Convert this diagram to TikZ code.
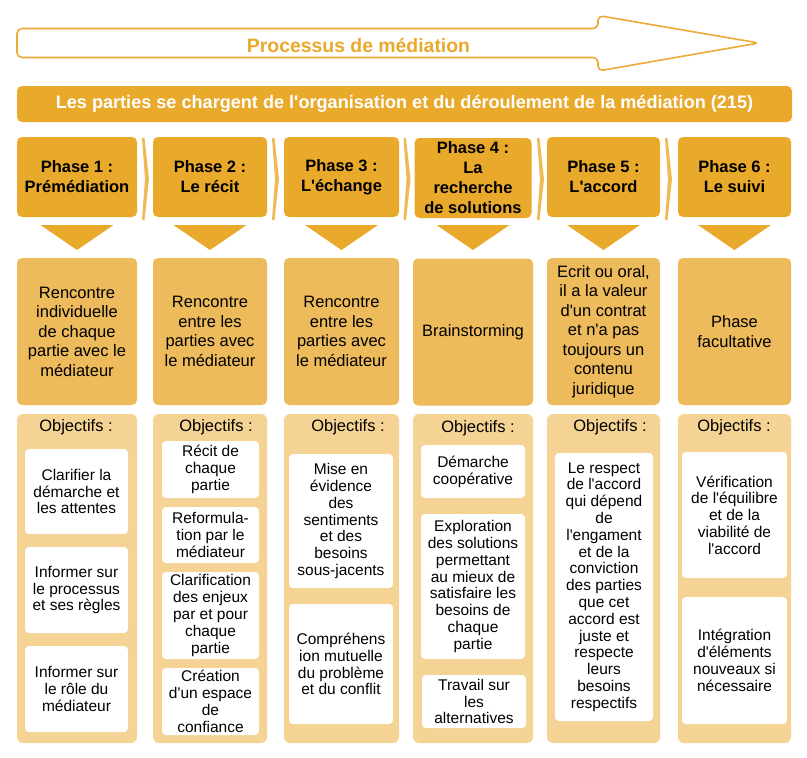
\documentclass[tikz,border=0pt]{standalone}
\usepackage{fontspec}
\newfontfamily\lib{Liberation Sans}
\definecolor{gold}{HTML}{E9A92B}
\definecolor{goldline}{HTML}{EDAA38}
\definecolor{descc}{HTML}{EDBA5C}
\definecolor{contc}{HTML}{F4D394}
\definecolor{chevc}{HTML}{EFBA55}
\begin{document}
\lib
\begin{tikzpicture}[x=1pt,y=-1pt,
  phasebox/.style={fill=gold, rounded corners=5pt, minimum height=80pt, inner sep=0pt,
    font=\lib\fontsize{16.5}{20}\selectfont\bfseries, align=center},
  descbox/.style={fill=descc, rounded corners=5pt, minimum height=147pt, inner sep=0pt,
    font=\lib\fontsize{16.5}{19.5}\selectfont, align=center},
  contbox/.style={fill=contc, rounded corners=6pt, minimum height=329pt, inner sep=0pt},
  objtitle/.style={font=\lib\fontsize{16.5}{19}\selectfont, inner sep=0pt},
  objbox/.style={fill=white, rounded corners=4pt, inner sep=0pt,
    font=\lib\fontsize{15.5}{16.8}\selectfont, align=center},
  tri/.style={fill=gold},
  chev/.style={fill=chevc}]
\useasboundingbox (0,0) rectangle (807,758);

% top arrow
\draw[goldline, line width=1.6pt, rounded corners=5pt, fill=white]
  (17,28.5) -- (598,28.5) -- (598,15.5) -- (759,43) -- (598,71) -- (598,57.5) -- (17,57.5) -- cycle;
\node[text=gold, font=\lib\fontsize{19.4}{21}\selectfont\bfseries, inner sep=0pt] (title) at (358.5,45) {Processus de médiation};

% banner
\node[fill=gold, rounded corners=5pt, minimum width=775pt, minimum height=36pt, inner sep=0pt,
  text=white, font=\lib\fontsize{18.1}{20}\selectfont\bfseries] (banner) at (404.5,104)
  {Les parties se chargent de l'organisation et du déroulement de la médiation (215)};

% phase boxes
\node[phasebox, minimum width=120pt] (p1) at (77,177) {Phase 1 :\\Prémédiation};
\node[phasebox, minimum width=114pt] (p2) at (210,177) {Phase 2 :\\Le récit};
\node[phasebox, minimum width=115pt] (p3) at (341.5,177) {Phase 3 :\\L'échange};
\node[phasebox, minimum width=117pt] (p4) at (473,178) {Phase 4 :\\La\\recherche\\de solutions};
\node[phasebox, minimum width=113pt] (p5) at (603.5,177) {Phase 5 :\\L'accord};
\node[phasebox, minimum width=113pt] (p6) at (734.5,177) {Phase 6 :\\Le suivi};

% chevrons between phases
\foreach \x in {142,272,403.5,537,665}{
  \fill[chev] (\x,138) -- (\x+2.5,138) -- (\x+7,179) -- (\x+2.5,220) -- (\x,220) -- (\x+3,179) -- cycle;
}

% triangles
\foreach \c in {77,210,341.5,473,603.5,734.5}{
  \fill[tri] (\c-36.5,225) -- (\c+36.5,225) -- (\c,250) -- cycle;
}

% description boxes
\node[descbox, minimum width=120pt] (d1) at (77,331.5) {Rencontre\\individuelle\\de chaque\\partie avec le\\médiateur};
\node[descbox, minimum width=114pt] (d2) at (210,331.5) {Rencontre\\entre les\\parties avec\\le médiateur};
\node[descbox, minimum width=115pt] (d3) at (341.5,331.5) {Rencontre\\entre les\\parties avec\\le médiateur};
\node[descbox, minimum width=120pt] (d4) at (473,332) {Brainstorming};
\node[descbox, minimum width=113pt] (d5) at (603.5,331.5) {Ecrit ou oral,\\il a la valeur\\d'un contrat\\et n'a pas\\toujours un\\contenu\\juridique};
\node[descbox, minimum width=113pt] (d6) at (734.5,331.5) {Phase\\facultative};

% objective containers
\node[contbox, minimum width=120pt] (c1) at (77,578.5) {};
\node[contbox, minimum width=114pt] (c2) at (210,578.5) {};
\node[contbox, minimum width=115pt] (c3) at (341.5,578.5) {};
\node[contbox, minimum width=120pt] (c4) at (473,578.5) {};
\node[contbox, minimum width=113pt] (c5) at (603.5,578.5) {};
\node[contbox, minimum width=113pt] (c6) at (734.5,578.5) {};

\node[objtitle] (t1) at (76,427) {Objectifs :};
\node[objtitle] (t2) at (216,427) {Objectifs :};
\node[objtitle] (t3) at (348,427) {Objectifs :};
\node[objtitle] (t4) at (478,428) {Objectifs :};
\node[objtitle] (t5) at (610,427) {Objectifs :};
\node[objtitle] (t6) at (734,427) {Objectifs :};

% column 1
\node[objbox, minimum width=103pt, minimum height=85pt] (o11) at (76.5,491.5) {Clarifier la\\démarche et\\les attentes};
\node[objbox, minimum width=103pt, minimum height=86pt] (o12) at (76.5,590) {Informer sur\\le processus\\et ses règles};
\node[objbox, minimum width=103pt, minimum height=86pt] (o13) at (76.5,689) {Informer sur\\le rôle du\\médiateur};
% column 2
\node[objbox, minimum width=97pt, minimum height=57pt] (o21) at (210.5,469.5) {Récit de\\chaque\\partie};
\node[objbox, minimum width=97pt, minimum height=56pt] (o22) at (210.5,535) {Reformula-\\tion par le\\médiateur};
\node[objbox, minimum width=97pt, minimum height=87pt] (o23) at (210.5,615.5) {Clarification\\des enjeux\\par et pour\\chaque\\partie};
\node[objbox, minimum width=97pt, minimum height=67pt] (o24) at (210.5,701.5) {Création\\d'un espace\\de\\confiance};
% column 3
\node[objbox, minimum width=104pt, minimum height=134pt] (o31) at (341,521) {Mise en\\évidence\\des\\sentiments\\et des\\besoins\\sous-jacents};
\node[objbox, minimum width=104pt, minimum height=120pt] (o32) at (341,664) {Compréhens\\ion mutuelle\\du problème\\et du conflit};
% column 4
\node[objbox, minimum width=104pt, minimum height=53pt] (o41) at (473,471.5) {Démarche\\coopérative};
\node[objbox, minimum width=104pt, minimum height=145pt] (o42) at (473,586.5) {Exploration\\des solutions\\permettant\\au mieux de\\satisfaire les\\besoins de\\chaque\\partie};
\node[objbox, minimum width=104pt, minimum height=53pt] (o43) at (474,701.5) {Travail sur\\les\\alternatives};
% column 5
\node[objbox, minimum width=98pt, minimum height=268pt] (o51) at (604,587) {Le respect\\de l'accord\\qui dépend\\de\\l'engament\\et de la\\conviction\\des parties\\que cet\\accord est\\juste et\\respecte\\leurs\\besoins\\respectifs};
% column 6
\node[objbox, minimum width=105pt, minimum height=126pt] (o61) at (734.5,515) {Vérification\\de l'équilibre\\et de la\\viabilité de\\l'accord};
\node[objbox, minimum width=105pt, minimum height=127pt] (o62) at (734.5,660.5) {Intégration\\d'éléments\\nouveaux si\\nécessaire};
\end{tikzpicture}
\end{document}
